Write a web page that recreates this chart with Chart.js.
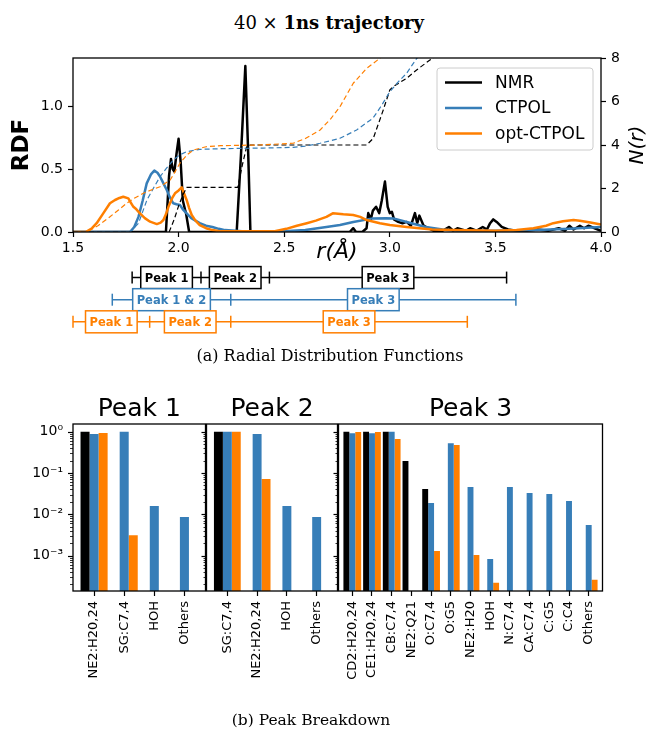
<!DOCTYPE html>
<html>
<head>
<meta charset="utf-8">
<script src="https://cdn.jsdelivr.net/npm/chart.js@4.4.0/dist/chart.umd.min.js"></script>
<style>
  body { margin: 0; background: #fff; }
  #fig { position: relative; width: 648px; height: 730px; overflow: hidden; }
  #fig canvas { position: absolute; left: 0; }
  .cap { position: absolute; font-family: 'DejaVu Serif', serif; white-space: nowrap; transform: translateX(-50%); line-height: 1; color: #000; }
</style>
</head>
<body>
<div id="fig">
  <div class="cap" style="left:329px; top:14px; font-size:18px">40 &times; <b>1ns trajectory</b></div>
  <canvas id="rdfChart" width="648" height="230" style="top:40px"></canvas>
  <canvas id="rangeChart" width="648" height="90" style="top:255px"></canvas>
  <div class="cap" style="left:330px; top:348px; font-size:16px">(a) Radial Distribution Functions</div>
  <canvas id="peak1Chart" width="648" height="350" style="top:380px"></canvas>
  <canvas id="peak2Chart" width="648" height="350" style="top:380px"></canvas>
  <canvas id="peak3Chart" width="648" height="350" style="top:380px"></canvas>
  <div class="cap" style="left:311px; top:713px; font-size:15.5px">(b) Peak Breakdown</div>
</div>
<script>
// ---- RDF curves g(r) ----
const nmrR   = [1.5, 1.94, 1.955, 1.964, 1.972, 1.98, 1.99, 2.0, 2.01, 2.02, 2.03, 2.035, 2.045, 2.05,
                2.275, 2.295, 2.316, 2.33, 2.34, 2.81, 2.827, 2.84, 2.87, 2.89, 2.898, 2.91, 2.92, 2.935,
                2.95, 2.962, 2.977, 2.99, 3.0, 3.01, 3.02, 3.04, 3.06, 3.08, 3.1, 3.119, 3.13, 3.14, 3.16,
                3.206, 3.25, 3.28, 3.3, 3.32, 3.36, 3.38, 3.41, 3.44, 3.46, 3.475, 3.49, 3.506, 3.53, 3.56,
                3.6, 3.65, 3.7, 3.75, 3.8, 3.83, 3.85, 3.87, 3.9, 3.92, 3.94, 3.97, 4.0];
const nmrRdf = [0, 0, 0.45, 0.58, 0.5, 0.48, 0.62, 0.74, 0.55, 0.25, 0.18, 0.15, 0.05, 0,
                0, 0.6, 1.317, 0.6, 0, 0, 0.03, 0, 0, 0.03, 0.15, 0.1, 0.17, 0.2,
                0.15, 0.25, 0.4, 0.2, 0.15, 0.16, 0.1, 0.08, 0.07, 0.08, 0.05, 0.15, 0.07, 0.13, 0.05,
                0.01, 0.01, 0.04, 0.01, 0.03, 0.01, 0.03, 0.01, 0.04, 0.02, 0.07, 0.1, 0.08, 0.04, 0.02,
                0.01, 0.01, 0.02, 0.01, 0.03, 0.01, 0.05, 0.02, 0.05, 0.03, 0.05, 0.03, 0.01];
const ctpolR   = [1.5, 1.77, 1.79, 1.81, 1.83, 1.849, 1.87, 1.885, 1.9, 1.912, 1.93, 1.944, 1.96, 1.975,
                  1.99, 2.006, 2.02, 2.038, 2.06, 2.08, 2.1, 2.13, 2.16, 2.19, 2.22, 2.3, 2.5, 2.6, 2.7,
                  2.764, 2.827, 2.92, 2.98, 3.017, 3.08, 3.17, 3.25, 3.32, 3.5, 3.7, 3.85, 4.0];
const ctpolRdf = [0, 0, 0.04, 0.12, 0.25, 0.386, 0.46, 0.487, 0.47, 0.44, 0.38, 0.333, 0.27, 0.228,
                  0.22, 0.215, 0.18, 0.148, 0.11, 0.09, 0.07, 0.05, 0.04, 0.025, 0.015, 0.005, 0.005, 0.015, 0.04,
                  0.055, 0.08, 0.108, 0.11, 0.108, 0.08, 0.04, 0.02, 0.01, 0.01, 0.015, 0.025, 0.04];
const optR   = [1.5, 1.56, 1.59, 1.612, 1.64, 1.675, 1.699, 1.72, 1.738, 1.762, 1.775, 1.786, 1.8, 1.817,
                1.84, 1.865, 1.897, 1.915, 1.928, 1.94, 1.952, 1.97, 1.983, 2.0, 2.015, 2.025, 2.038, 2.05,
                2.062, 2.08, 2.1, 2.13, 2.16, 2.2, 2.45, 2.51, 2.56, 2.607, 2.65, 2.7, 2.73, 2.78, 2.827,
                2.86, 2.89, 2.953, 3.0, 3.08, 3.2, 3.3, 3.5, 3.6, 3.68, 3.74, 3.774, 3.82, 3.87, 3.9, 3.95, 4.0];
const optRdf = [0, 0, 0.03, 0.07, 0.14, 0.228, 0.254, 0.27, 0.28, 0.267, 0.23, 0.2, 0.18, 0.148,
                0.11, 0.082, 0.063, 0.075, 0.095, 0.14, 0.2, 0.27, 0.307, 0.33, 0.355, 0.31, 0.254, 0.19,
                0.135, 0.09, 0.055, 0.03, 0.015, 0.005, 0.005, 0.025, 0.05, 0.07, 0.09, 0.12, 0.148, 0.14, 0.135,
                0.12, 0.095, 0.07, 0.055, 0.04, 0.02, 0.015, 0.01, 0.015, 0.03, 0.05, 0.07, 0.085, 0.095, 0.09, 0.075, 0.06];

// ---- coordination numbers N(r) ----
const nmrNR   = [1.5, 1.955, 1.98, 2.0, 2.02, 2.038, 2.28, 2.3, 2.322, 2.34, 2.89, 2.922, 2.969, 3.0, 3.016, 3.08, 3.127, 3.19, 3.3];
const nmrN    = [0, 0, 0.6, 1.2, 1.7, 2.05, 2.05, 3.0, 3.92, 4.0, 4.0, 4.31, 5.61, 6.53, 6.68, 7.07, 7.45, 7.91, 8.6];
const ctpolNR = [1.5, 1.77, 1.81, 1.85, 1.88, 1.912, 1.94, 1.975, 2.006, 2.038, 2.1, 2.2, 2.4, 2.543, 2.6, 2.67, 2.72,
                 2.764, 2.843, 2.92, 2.96, 3.0, 3.04, 3.08, 3.127, 3.2];
const ctpolN  = [0, 0, 0.4, 1.47, 2.0, 2.54, 2.9, 3.31, 3.55, 3.69, 3.8, 3.83, 3.86, 3.89, 3.95, 4.08, 4.2,
                 4.31, 4.69, 5.23, 5.8, 6.45, 6.9, 7.3, 7.98, 8.6];
const optNR   = [1.5, 1.565, 1.62, 1.675, 1.714, 1.754, 1.79, 1.833, 1.87, 1.912, 1.96, 1.985, 2.006, 2.04, 2.07,
                 2.13, 2.2, 2.38, 2.543, 2.6, 2.67, 2.72, 2.764, 2.827, 2.89, 2.953, 3.0];
const optN    = [0, 0, 0.3, 0.7, 1.0, 1.32, 1.55, 1.78, 1.93, 2.08, 2.39, 2.8, 3.16, 3.55, 3.77,
                 3.92, 3.97, 4.0, 4.08, 4.3, 4.69, 5.2, 5.76, 6.84, 7.52, 7.99, 8.4];

const rTicks = [1.5, 2.0, 2.5, 3.0, 3.5, 4.0];
const rdfTicks = [0, 0.5, 1.0];
const nTicks = [0, 2, 4, 6, 8];

// ---- peak ranges in r ----
const nmrBounds = [1.78, 2.106, 2.43, 3.553];
const nmrPeaks = ['Peak 1', 'Peak 2', 'Peak 3'];
const ctpolBounds = [1.686, 2.247, 3.597];
const ctpolPeaks = ['Peak 1 & 2', 'Peak 3'];
const optBounds = [1.5, 1.863, 2.247, 3.367];
const optPeaks = ['Peak 1', 'Peak 2', 'Peak 3'];

// ---- peak breakdown (fractions) ----
const p1Cats  = ['NE2:H20,24', 'SG:C7,4', 'HOH', 'Others'];
const p1Nmr   = [1.0, null, null, null];
const p1Ctpol = [0.88, 1.0, 0.0158, 0.0086];
const p1Opt   = [0.93, 0.0031, null, null];

const p2Cats  = ['SG:C7,4', 'NE2:H20,24', 'HOH', 'Others'];
const p2Nmr   = [1.0, null, null, null];
const p2Ctpol = [1.0, 0.88, 0.0158, 0.0086];
const p2Opt   = [1.0, 0.0716, null, null];

const p3Cats  = ['CD2:H20,24', 'CE1:H20,24', 'CB:C7,4', 'NE2:Q21', 'O:C7,4', 'O:G5', 'NE2:H20', 'HOH',
                 'N:C7,4', 'CA:C7,4', 'C:G5', 'C:C4', 'Others'];
const p3Nmr   = [1.0, 1.0, 1.0, 0.195, 0.041, null, null, null, null, null, null, null, null];
const p3Ctpol = [0.92, 0.92, 1.0, null, 0.0188, 0.53, 0.0458, 0.00083, 0.0458, 0.0328, 0.031, 0.021, 0.0055];
const p3Opt   = [0.99, 0.99, 0.665, null, 0.0013, 0.476, 0.00104, 0.00022, null, null, null, null, 0.00026];

const COLORS = { nmr: '#000000', ctpol: '#377eb8', opt: '#ff7f00' };

Chart.defaults.font.family = "'DejaVu Sans', sans-serif";
Chart.defaults.color = '#000';

const pts = (xs, ys) => xs.map((x, i) => ({ x, y: ys[i] }));
const fixedTicks = vals => scale => { scale.ticks = vals.map(v => ({ value: v })); };

// black box around the plot area
const framePlugin = {
  id: 'frame',
  afterDatasetsDraw(chart) {
    const { ctx, chartArea: a } = chart;
    ctx.save();
    ctx.strokeStyle = '#000';
    ctx.lineWidth = 1.3;
    ctx.strokeRect(a.left, a.top, a.right - a.left, a.bottom - a.top);
    ctx.restore();
  }
};

// legend drawn inside the upper right corner
const insetLegend = {
  id: 'insetLegend',
  afterDraw(chart) {
    const { ctx, chartArea: a } = chart;
    const items = chart.data.datasets.filter(d => d.inLegend);
    const w = 156, h = 82, x0 = a.right - 8 - w, y0 = a.top + 10;
    ctx.save();
    ctx.beginPath();
    ctx.roundRect(x0, y0, w, h, 3);
    ctx.fillStyle = 'rgba(255,255,255,0.8)';
    ctx.fill();
    ctx.strokeStyle = '#cccccc';
    ctx.lineWidth = 1;
    ctx.stroke();
    ctx.font = "17px 'DejaVu Sans'";
    ctx.textBaseline = 'middle';
    items.forEach((d, i) => {
      const cy = y0 + 14.5 + i * 25.5;
      ctx.strokeStyle = d.borderColor;
      ctx.lineWidth = d.borderWidth;
      ctx.beginPath();
      ctx.moveTo(x0 + 8, cy);
      ctx.lineTo(x0 + 45, cy);
      ctx.stroke();
      ctx.fillStyle = '#000';
      ctx.fillText(d.label, x0 + 58, cy + 1);
    });
    ctx.restore();
  }
};

// right axis label reading bottom to top
const sideTitle = {
  id: 'sideTitle',
  afterDraw(chart, args, opts) {
    const { ctx, chartArea: a } = chart;
    ctx.save();
    ctx.translate(a.right + 42, (a.top + a.bottom) / 2);
    ctx.rotate(-Math.PI / 2);
    ctx.font = "italic 20px 'DejaVu Sans'";
    ctx.fillStyle = '#000';
    ctx.textAlign = 'center';
    ctx.textBaseline = 'alphabetic';
    ctx.fillText(opts.text, 0, 0);
    ctx.restore();
  }
};

const solid = (label, data, color, order) => ({
  label, data, borderColor: color, borderWidth: 2.5, yAxisID: 'y', inLegend: true, order
});
const dashed = (label, data, color, order) => ({
  label, data, borderColor: color, borderWidth: 1.2, borderDash: [5, 3], yAxisID: 'y2', order
});

new Chart(document.getElementById('rdfChart'), {
  type: 'line',
  data: {
    datasets: [
      solid('NMR', pts(nmrR, nmrRdf), COLORS.nmr, 6),
      solid('CTPOL', pts(ctpolR, ctpolRdf), COLORS.ctpol, 5),
      solid('opt-CTPOL', pts(optR, optRdf), COLORS.opt, 4),
      dashed('NMR N(r)', pts(nmrNR, nmrN), COLORS.nmr, 3),
      dashed('CTPOL N(r)', pts(ctpolNR, ctpolN), COLORS.ctpol, 2),
      dashed('opt-CTPOL N(r)', pts(optNR, optN), COLORS.opt, 1)
    ]
  },
  options: {
    responsive: false,
    animation: false,
    layout: { padding: { top: 18, left: 0, right: 0, bottom: 0 } },
    elements: {
      point: { radius: 0 },
      line: { tension: 0, borderJoinStyle: 'round', fill: false }
    },
    plugins: {
      legend: { display: false },
      tooltip: { enabled: false },
      sideTitle: { text: 'N(r)' }
    },
    scales: {
      x: {
        type: 'linear', min: 1.5, max: 4.0,
        afterBuildTicks: fixedTicks(rTicks),
        afterFit: s => { s.height = 38; },
        ticks: { font: { size: 14 }, padding: 3, callback: v => v.toFixed(1) },
        grid: { drawOnChartArea: false, tickLength: 5, tickColor: '#000', tickWidth: 1.2 },
        border: { display: false },
        title: { display: true, text: 'r(Å)', font: { size: 22, style: 'italic' }, padding: { top: 0, bottom: 5 } }
      },
      y: {
        type: 'linear', min: 0, max: 1.381,
        afterBuildTicks: fixedTicks(rdfTicks),
        afterFit: s => { s.width = 73; },
        ticks: { font: { size: 14 }, padding: 5, callback: v => v.toFixed(1) },
        grid: { drawOnChartArea: false, tickLength: 5, tickColor: '#000', tickWidth: 1.2 },
        border: { display: false },
        title: { display: true, text: 'RDF', font: { size: 23, weight: 'bold' }, padding: { top: 8, bottom: 0 } }
      },
      y2: {
        type: 'linear', position: 'right', min: 0, max: 8,
        afterBuildTicks: fixedTicks(nTicks),
        afterFit: s => { s.width = 47; },
        ticks: { font: { size: 14 }, padding: 5 },
        grid: { drawOnChartArea: false, tickLength: 5, tickColor: '#000', tickWidth: 1.2 },
        border: { display: false }
      }
    }
  },
  plugins: [framePlugin, insetLegend, sideTitle]
});

// boxed peak names centred on each range segment
const peakBoxes = {
  id: 'peakBoxes',
  afterDatasetsDraw(chart) {
    const { ctx } = chart;
    const xs = chart.scales.x, ys = chart.scales.y;
    ctx.save();
    ctx.font = "bold 11.5px 'DejaVu Sans'";
    ctx.textAlign = 'center';
    ctx.textBaseline = 'middle';
    chart.data.datasets.forEach(d => {
      d.peaks.forEach((name, i) => {
        const cx = xs.getPixelForValue((d.data[i].x + d.data[i + 1].x) / 2);
        const cy = ys.getPixelForValue(d.data[i].y);
        const w = ctx.measureText(name).width + 8, h = 22;
        ctx.fillStyle = '#fff';
        ctx.fillRect(cx - w / 2, cy - h / 2, w, h);
        ctx.strokeStyle = d.borderColor;
        ctx.lineWidth = 1.5;
        ctx.strokeRect(cx - w / 2, cy - h / 2, w, h);
        ctx.fillStyle = d.borderColor;
        ctx.fillText(name, cx, cy + 1);
      });
    });
    ctx.restore();
  }
};

const rangeRow = (label, bounds, peaks, row, color) => ({
  label, peaks, borderColor: color, borderWidth: 1.5,
  data: bounds.map(x => ({ x, y: row })),
  pointStyle: 'line', pointRotation: 90, pointRadius: 6, pointBorderWidth: 1.5, pointBorderColor: color
});

new Chart(document.getElementById('rangeChart'), {
  type: 'line',
  data: {
    datasets: [
      rangeRow('NMR', nmrBounds, nmrPeaks, 3, COLORS.nmr),
      rangeRow('CTPOL', ctpolBounds, ctpolPeaks, 2, COLORS.ctpol),
      rangeRow('opt-CTPOL', optBounds, optPeaks, 1, COLORS.opt)
    ]
  },
  options: {
    responsive: false,
    animation: false,
    clip: false,
    layout: { padding: { left: 73, right: 47, top: 7, bottom: 5 } },
    plugins: { legend: { display: false }, tooltip: { enabled: false } },
    scales: {
      x: { type: 'linear', min: 1.5, max: 4.0, display: false },
      y: { type: 'linear', min: 0.291, max: 3.682, display: false }
    }
  },
  plugins: [peakBoxes]
});

// ---- breakdown panels ----
const SUP = { '-': '⁻', '0': '⁰', '1': '¹', '2': '²', '3': '³', '4': '⁴', '5': '⁵', '6': '⁶', '7': '⁷', '8': '⁸', '9': '⁹' };
const decadeLabel = v => '10' + String(Math.round(Math.log10(v))).split('').map(c => SUP[c]).join('');

function logTicks(min, max) {
  const out = [];
  for (let e = Math.floor(Math.log10(min)); e <= Math.ceil(Math.log10(max)); e++) {
    for (let m = 1; m <= 9; m++) {
      const v = m * Math.pow(10, e);
      if (v >= min && v <= max) out.push({ value: v, major: m === 1 });
    }
  }
  return out;
}

// major and minor log ticks on the left spine
const logTickMarks = {
  id: 'logTickMarks',
  afterDraw(chart) {
    const { ctx, chartArea: a } = chart;
    const s = chart.scales.y;
    ctx.save();
    ctx.strokeStyle = '#000';
    s.ticks.forEach(t => {
      const y = Math.round(s.getPixelForValue(t.value)) + 0.5;
      const len = t.major ? 5 : 3;
      ctx.lineWidth = t.major ? 1.2 : 0.8;
      ctx.beginPath();
      ctx.moveTo(a.left - len, y);
      ctx.lineTo(a.left, y);
      ctx.stroke();
    });
    ctx.restore();
  }
};

const panelTitle = {
  id: 'panelTitle',
  afterDraw(chart, args, opts) {
    const { ctx, chartArea: a } = chart;
    ctx.save();
    ctx.font = "25px 'DejaVu Sans'";
    ctx.fillStyle = '#000';
    ctx.textAlign = 'center';
    ctx.textBaseline = 'alphabetic';
    ctx.fillText(opts.text, (a.left + a.right) / 2, a.top - 8);
    ctx.restore();
  }
};

const Y_MIN = 1.39e-4, Y_MAX = 1.54;

function panelChart(id, title, cats, nmr, ctpol, opt, left, right, showYLabels) {
  const pair = ys => ys.map((y, i) => ({ x: i, y }));
  return new Chart(document.getElementById(id), {
    type: 'bar',
    data: {
      datasets: [
        { label: 'NMR', data: pair(nmr), backgroundColor: COLORS.nmr },
        { label: 'CTPOL', data: pair(ctpol), backgroundColor: COLORS.ctpol },
        { label: 'opt-CTPOL', data: pair(opt), backgroundColor: COLORS.opt }
      ]
    },
    options: {
      responsive: false,
      animation: false,
      layout: { padding: { top: 44, left: 0, right: 648 - right, bottom: 0 } },
      datasets: { bar: { categoryPercentage: 0.9, barPercentage: 1.0 } },
      plugins: {
        legend: { display: false },
        tooltip: { enabled: false },
        panelTitle: { text: title }
      },
      scales: {
        x: {
          type: 'linear', min: -0.7, max: cats.length - 0.3, offset: false,
          afterBuildTicks: s => { s.ticks = cats.map((_, i) => ({ value: i })); },
          afterFit: s => { s.height = 139; },
          ticks: {
            autoSkip: false, minRotation: 90, maxRotation: 90, padding: 5,
            font: { size: 13 }, callback: (v, i) => cats[i]
          },
          grid: { offset: false, drawOnChartArea: false, tickLength: 5, tickColor: '#000', tickWidth: 1.2 },
          border: { display: false }
        },
        y: {
          type: 'logarithmic', min: Y_MIN, max: Y_MAX,
          afterBuildTicks: s => { s.ticks = logTicks(Y_MIN, Y_MAX); },
          afterFit: s => { s.width = left; },
          ticks: {
            autoSkip: false, padding: 10, font: { size: 14 },
            callback: (v, i, ticks) => (showYLabels && ticks[i].major ? decadeLabel(v) : '')
          },
          grid: { display: true, drawOnChartArea: false, drawTicks: false },
          border: { display: false }
        }
      }
    },
    plugins: [framePlugin, logTickMarks, panelTitle]
  });
}

panelChart('peak1Chart', 'Peak 1', p1Cats, p1Nmr, p1Ctpol, p1Opt, 73, 205.5, true);
panelChart('peak2Chart', 'Peak 2', p2Cats, p2Nmr, p2Ctpol, p2Opt, 206.5, 337.5, false);
panelChart('peak3Chart', 'Peak 3', p3Cats, p3Nmr, p3Ctpol, p3Opt, 338.5, 602.5, false);
</script>
</body>
</html>
